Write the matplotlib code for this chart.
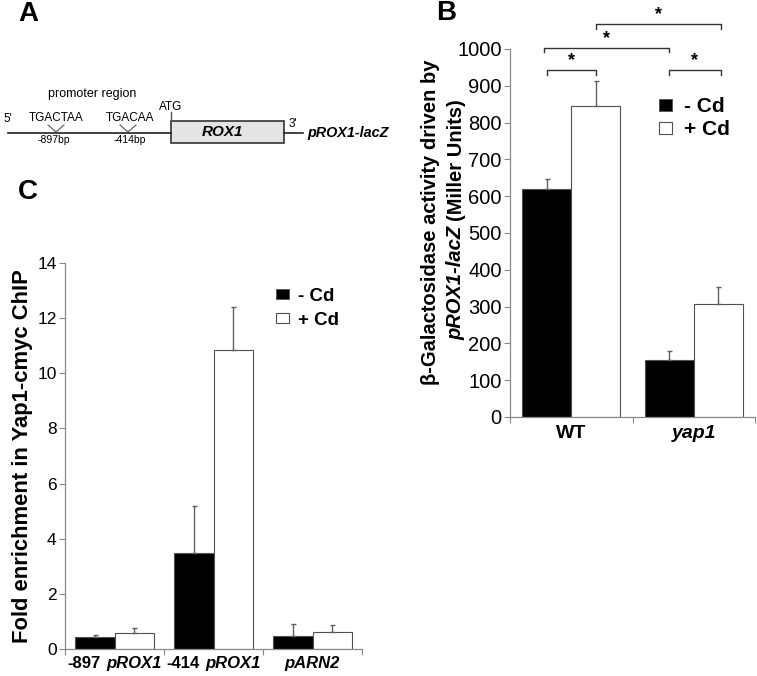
import matplotlib
matplotlib.use("Agg")
import matplotlib.pyplot as plt
import numpy as np
from matplotlib.patches import Patch, Rectangle
from matplotlib.offsetbox import TextArea, HPacker, AnnotationBbox

plt.rcParams['font.family'] = ['Liberation Sans', 'DejaVu Sans']

# ---------------- data ----------------
b_groups = ['WT', 'yap1']
b_minus = [620, 155]
b_minus_err = [28, 23]
b_plus = [845, 308]
b_plus_err = [68, 44]
b_yticks = [0, 100, 200, 300, 400, 500, 600, 700, 800, 900, 1000]

c_prefix = ['-897', '-414', '']
c_italic = ['pROX1', 'pROX1', 'pARN2']
c_minus = [0.45, 3.5, 0.48]
c_minus_err = [0.07, 1.7, 0.42]
c_plus = [0.57, 10.85, 0.6]
c_plus_err = [0.2, 1.55, 0.27]
c_yticks = [0, 2, 4, 6, 8, 10, 12, 14]

legend_labels = ['- Cd', '+ Cd']

W, H = 757, 676
fig = plt.figure(figsize=(W / 100, H / 100), dpi=100)

GRAY = '#8a8a8a'
EDGE = '#505050'
ERR = '#606060'


def px_axes(x0, y0, x1, y1):
    return fig.add_axes([x0 / W, 1 - y1 / H, (x1 - x0) / W, (y1 - y0) / H])


def style_axes(ax, ncat, fs):
    for s in ['top', 'right']:
        ax.spines[s].set_visible(False)
    for s in ['left', 'bottom']:
        ax.spines[s].set_color(GRAY)
        ax.spines[s].set_linewidth(0.9)
    ax.tick_params(axis='y', colors=GRAY, labelcolor='black', labelsize=fs,
                   length=4, width=0.8, direction='out', pad=2)
    ax.set_xlim(-0.5, ncat - 0.5)
    ax.set_xticks(np.arange(-0.5, ncat, 1.0), minor=True)
    ax.tick_params(axis='x', which='minor', colors=GRAY, length=4, width=0.8)
    ax.tick_params(axis='x', which='major', length=0)


def draw_bars(ax, minus, minus_err, plus, plus_err, width=0.4):
    x = np.arange(len(minus))
    ax.bar(x - width / 2, minus, width, color='black', edgecolor=EDGE, linewidth=0.8, zorder=2)
    ax.bar(x + width / 2, plus, width, color='white', edgecolor=EDGE, linewidth=0.8, zorder=2)
    ax.errorbar(x - width / 2, minus, yerr=[np.zeros(len(minus)), minus_err], fmt='none',
                ecolor=ERR, elinewidth=1.0, capsize=1.8, capthick=1.0, zorder=3)
    ax.errorbar(x + width / 2, plus, yerr=[np.zeros(len(plus)), plus_err], fmt='none',
                ecolor=ERR, elinewidth=1.0, capsize=1.8, capthick=1.0, zorder=3)
    return x


# ---------------- Panel B ----------------
axB = px_axes(510, 49, 755, 417)
xb = draw_bars(axB, b_minus, b_minus_err, b_plus, b_plus_err)
axB.set_ylim(0, 1000)
axB.set_yticks(b_yticks)
style_axes(axB, len(b_groups), 14.5)
axB.set_xticks(xb)
axB.set_xticklabels(b_groups, fontsize=14, fontweight='bold')
axB.get_xticklabels()[1].set_fontstyle('italic')
axB.tick_params(axis='x', which='major', pad=6)


# significance brackets
def bracket(ax, x1, x2, y, tick):
    ax.plot([x1, x1, x2, x2], [y - tick, y, y, y - tick], color='#333333', lw=1.0,
            clip_on=False, zorder=4)
    ax.text((x1 + x2) / 2, y + 2, '*', ha='center', va='bottom', fontsize=13,
            fontweight='bold', clip_on=False)


bracket(axB, xb[0] + 0.2, xb[1] + 0.22, 1068, 14)
bracket(axB, xb[0] - 0.22, xb[1] - 0.2, 1003, 12)
bracket(axB, xb[0] - 0.2, xb[0] + 0.2, 943, 14)
bracket(axB, xb[1] - 0.2, xb[1] + 0.22, 943, 14)

handles = [Patch(facecolor='black', edgecolor=EDGE, lw=0.6),
           Patch(facecolor='white', edgecolor=EDGE, lw=0.8)]
fig.legend(handles, legend_labels, loc='upper left', bbox_to_anchor=(659 / W, 1 - 97 / H),
           frameon=False, prop=dict(weight='bold', size=15), handlelength=0.6,
           handleheight=0.5, handletextpad=0.6, labelspacing=0.2, borderpad=0,
           borderaxespad=0)

# y label for B (two lines, partly italic)
fig.text(430 / W, 1 - 222 / H, 'β-Galactosidase activity driven by', rotation=90,
         ha='center', va='center', fontsize=14.5, fontweight='bold')
t2 = fig.text(456 / W, 1 - 99 / H, '(Miller Units)', rotation=90, ha='center', va='top',
              fontsize=14.5, fontweight='bold')
plt.annotate('pROX1-lacZ ', xy=(0.5, 0), xycoords=t2, ha='center', va='top',
             rotation=90, fontsize=14.5, fontweight='bold', fontstyle='italic',
             annotation_clip=False)

# ---------------- Panel C ----------------
axC = px_axes(65, 263, 362, 649)
xc = draw_bars(axC, c_minus, c_minus_err, c_plus, c_plus_err)
axC.set_ylim(0, 14)
axC.set_yticks(c_yticks)
style_axes(axC, len(c_italic), 12.5)
axC.set_xticks([])
axC.set_xticks(np.arange(-0.5, len(c_italic), 1.0), minor=True)
for i, (pre, it) in enumerate(zip(c_prefix, c_italic)):
    parts = []
    if pre:
        parts.append(TextArea(pre, textprops=dict(fontweight='bold', fontsize=12,
                                                  family=['Liberation Sans'])))
    parts.append(TextArea(it, textprops=dict(fontweight='bold', fontstyle='italic',
                                             fontsize=12, family=['Liberation Sans'])))
    box = HPacker(children=parts, pad=0, sep=4, align='baseline')
    ab = AnnotationBbox(box, (xc[i], 0), xycoords=('data', 'axes fraction'),
                        box_alignment=(0.5, 1), xybox=(0, -5), boxcoords='offset points',
                        frameon=False, pad=0, annotation_clip=False)
    axC.add_artist(ab)

axC.set_ylabel('Fold enrichment in Yap1-cmyc ChIP', fontsize=15.8, fontweight='bold',
               labelpad=3)

fig.legend(handles, legend_labels, loc='upper left', bbox_to_anchor=(276 / W, 1 - 288 / H),
           frameon=False, prop=dict(weight='bold', size=13.5), handlelength=0.7,
           handleheight=0.45, handletextpad=0.5, labelspacing=0.35, borderpad=0,
           borderaxespad=0)

# ---------------- Panel A (schematic) + panel letters ----------------
axA = fig.add_axes([0, 0, 1, 1], zorder=-1)
axA.set_xlim(0, W)
axA.set_ylim(H, 0)
axA.axis('off')

for lab, (x, y) in zip(['A', 'B', 'C'], [(18, 14), (436, 13), (18, 192)]):
    axA.text(x, y, lab, fontsize=20, fontweight='bold', ha='left', va='center')

lc = '#222222'
axA.plot([8, 171], [133, 133], color=lc, lw=1.2)
axA.plot([284, 303], [133, 133], color=lc, lw=1.2)
axA.add_patch(Rectangle((171, 121), 113, 22, facecolor='#e4e4e4', edgecolor='#333333', lw=1.2))
axA.plot([171, 171], [112, 121], color='#555555', lw=1.0)
axA.text(222, 132, 'ROX1', ha='center', va='center', fontsize=11, fontweight='bold',
         fontstyle='italic')
axA.text(92, 94, 'promoter region', ha='center', va='center', fontsize=9)
axA.text(3, 119, "5'", ha='left', va='center', fontsize=8.5)
axA.text(289, 124, "3'", ha='left', va='center', fontsize=8.5)
axA.text(171, 107, 'ATG', ha='center', va='center', fontsize=8.5)
axA.text(56, 118, 'TGACTAA', ha='center', va='center', fontsize=8.5)
axA.text(130, 118, 'TGACAA', ha='center', va='center', fontsize=8.5)
axA.plot([48, 56, 64], [125, 132, 125], color='#555555', lw=0.8)
axA.plot([120, 128, 136], [125, 132, 125], color='#555555', lw=0.8)
axA.text(54, 140, '-897bp', ha='center', va='center', fontsize=7.5)
axA.text(130, 140, '-414bp', ha='center', va='center', fontsize=7.5)
axA.text(307, 133, 'pROX1-lacZ', ha='left', va='center', fontsize=10.4, fontweight='bold',
         fontstyle='italic')

fig.savefig('out.png', dpi=100)
